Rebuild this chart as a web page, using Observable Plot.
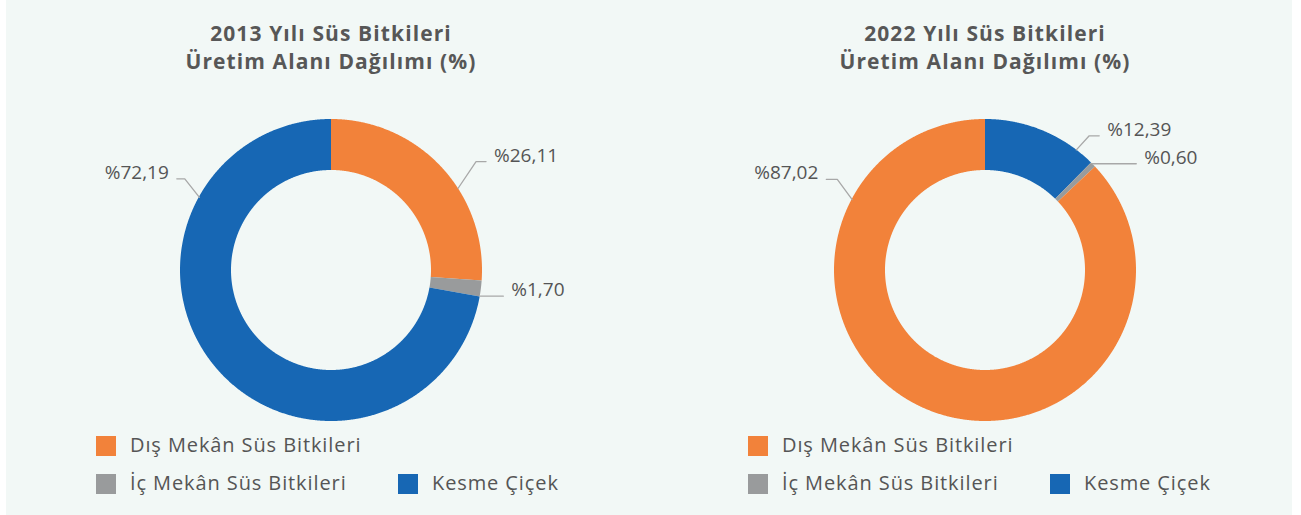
<!DOCTYPE html>
<html><head><meta charset="utf-8">
<script src="https://cdn.jsdelivr.net/npm/d3@7"></script>
<script src="https://cdn.jsdelivr.net/npm/@observablehq/plot@0.6"></script>
<style>
body{margin:0;background:#fff;width:1301px;height:515px;overflow:hidden;font-family:"Open Sans",sans-serif;position:relative;}
#bg{position:absolute;left:6px;top:0;width:1286px;height:515px;background:#f2f8f6;}
.title{position:absolute;width:600px;text-align:center;font-weight:700;font-size:21px;line-height:28px;letter-spacing:1.1px;color:#575757;white-space:pre;}
.chart{position:absolute;top:105px;}
.leg{position:absolute;font-size:20px;line-height:20px;letter-spacing:0.9px;color:#555;white-space:nowrap;}
.sw{position:absolute;width:20px;height:20px;}
</style></head><body>
<div id="bg"></div>
<script>
// ---- data ----
const categories = ["Dış Mekân Süs Bitkileri", "İç Mekân Süs Bitkileri", "Kesme Çiçek"];
const colors = ["#f2823a", "#999b9c", "#1767b4"];
const titles2013 = ["2013 Yılı Süs Bitkileri", "Üretim Alanı Dağılımı (%)"];
const titles2022 = ["2022 Yılı Süs Bitkileri", "Üretim Alanı Dağılımı (%)"];
// clockwise slice order from 12 o'clock
const slices2013 = ["Dış Mekân Süs Bitkileri", "İç Mekân Süs Bitkileri", "Kesme Çiçek"];
const values2013 = [26.11, 1.70, 72.19];
const slices2022 = ["Kesme Çiçek", "İç Mekân Süs Bitkileri", "Dış Mekân Süs Bitkileri"];
const values2022 = [12.39, 0.60, 87.02];

// ---- layout (label leader placement, degrees clockwise from top) ----
const labelLayout2013 = [
  {anchor: 57, elbowR: 181, elbowA: 53, run: 10},
  {anchor: 99.8, elbowR: 151, elbowA: 99.8, run: 23},
  {anchor: 299, elbowR: 173, elbowA: 302, run: 8}
];
const labelLayout2022 = [
  {anchor: 37, elbowR: 170, elbowA: 37.6, run: 10},
  {anchor: 45, elbowR: 151, elbowA: 45, run: 44},
  {anchor: 298, elbowR: 174, elbowA: 301.6, run: 11}
];
const R_OUT = 151, R_IN = 100;
const W = 620, H = 330;

const fmt = v => "%" + d3.format(".2f")(v).replace(".", ",");
const rad = a => a * Math.PI / 180;

function donut(slices, values, layout) {
  const arcs = d3.pie().sort(null).value(d => d.value)(slices.map((c, i) => ({category: c, value: values[i]})));
  const pts = [];
  for (const a of arcs) {
    const n = Math.max(2, Math.ceil((a.endAngle - a.startAngle) / 0.005));
    for (let k = 0; k <= n; k++) {
      const t = a.startAngle + (a.endAngle - a.startAngle) * k / n;
      pts.push({category: a.data.category, s: Math.sin(t), c: Math.cos(t)});
    }
  }
  const leaders = [], labels = [];
  arcs.forEach((a, i) => {
    const L = layout[i];
    const ax = R_OUT * Math.sin(rad(L.anchor)), ay = -R_OUT * Math.cos(rad(L.anchor));
    const ex = L.elbowR * Math.sin(rad(L.elbowA)), ey = -L.elbowR * Math.cos(rad(L.elbowA));
    const side = ex >= 0 ? 1 : -1;
    const tx = ex + side * L.run;
    leaders.push({id: i, x: ax, y: ay}, {id: i, x: ex, y: ey}, {id: i, x: tx, y: ey});
    labels.push({x: tx, y: ey, side, text: fmt(a.data.value)});
  });
  return Plot.plot({
    width: W, height: H, margin: 0,
    x: {domain: [-W / 2, W / 2], axis: null},
    y: {domain: [-H / 2, H / 2], axis: null, reverse: true},
    color: {domain: categories, range: colors},
    style: {background: "transparent", fontFamily: "Open Sans", overflow: "visible"},
    marks: [
      Plot.area(pts, {x1: d => R_IN * d.s, y1: d => -R_IN * d.c, x2: d => R_OUT * d.s, y2: d => -R_OUT * d.c, z: "category", fill: "category", curve: "linear"}),
      Plot.line(leaders, {x: "x", y: "y", z: "id", stroke: "#a8a8a8", strokeWidth: 1.3, curve: "linear"}),
      Plot.text(labels.filter(d => d.side > 0), {x: "x", y: "y", text: "text", textAnchor: "start", dx: 8, dy: -6, fontSize: 19, fill: "#555"}),
      Plot.text(labels.filter(d => d.side < 0), {x: "x", y: "y", text: "text", textAnchor: "end", dx: -8, dy: -6, fontSize: 19, fill: "#555"})
    ]
  });
}

function panel(cx, titleLines, slices, values, layout, legX) {
  const t = document.createElement("div");
  t.className = "title";
  t.style.left = (cx - 300) + "px";
  t.style.top = "19px";
  t.textContent = titleLines.join("\n");
  document.body.appendChild(t);

  const svg = donut(slices, values, layout);
  const wrap = document.createElement("div");
  wrap.className = "chart";
  wrap.style.left = (cx - W / 2) + "px";
  wrap.appendChild(svg);
  document.body.appendChild(wrap);

  const legendPos = [[legX, 436], [legX, 474], [legX + 302, 474]];
  categories.forEach((c, i) => {
    const sw = document.createElement("div");
    sw.className = "sw";
    sw.style.left = legendPos[i][0] + "px";
    sw.style.top = legendPos[i][1] + "px";
    sw.style.background = colors[i];
    document.body.appendChild(sw);
    const tx = document.createElement("div");
    tx.className = "leg";
    tx.style.left = (legendPos[i][0] + 34) + "px";
    tx.style.top = (legendPos[i][1] - 0.8) + "px";
    tx.textContent = c;
    document.body.appendChild(tx);
  });
}

panel(331, titles2013, slices2013, values2013, labelLayout2013, 96);
panel(985, titles2022, slices2022, values2022, labelLayout2022, 748);
</script>
</body></html>
